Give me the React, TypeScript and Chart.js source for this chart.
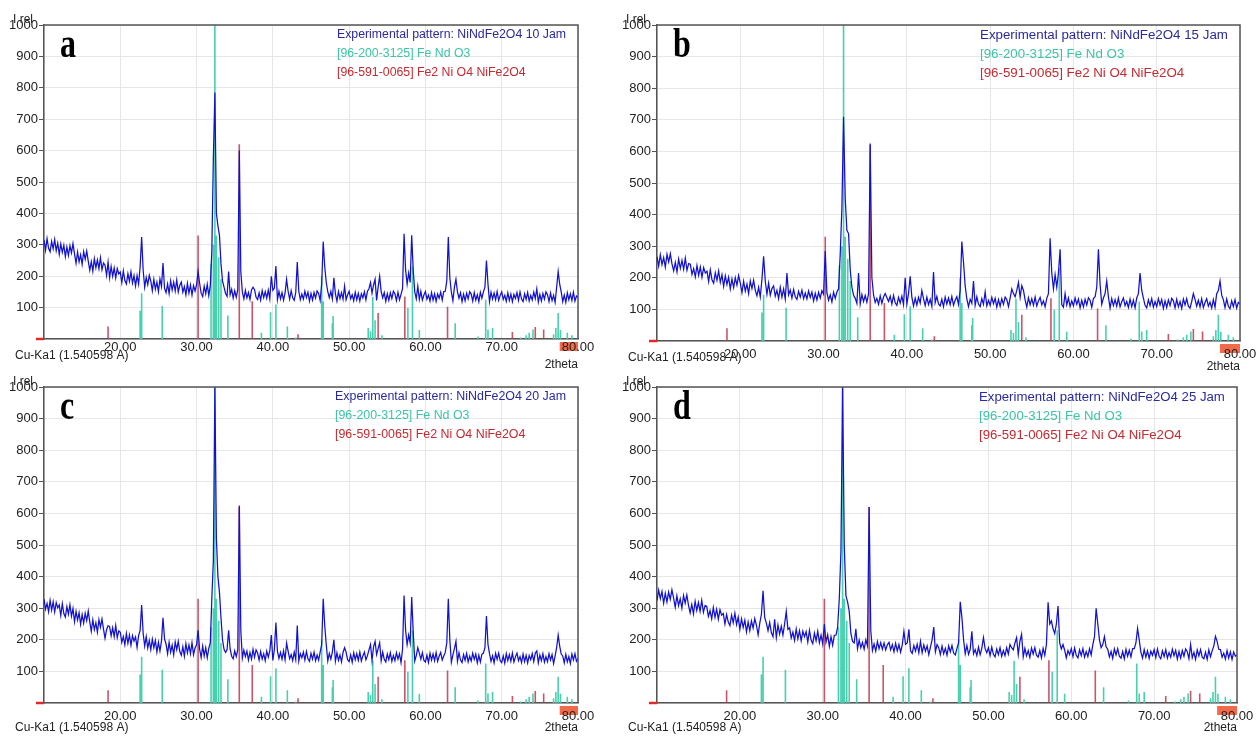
import React, { useEffect, useRef } from "react";
import { Chart, registerables } from "chart.js";
Chart.register(...registerables);

const FONT = '"Liberation Sans", Arial, Helvetica, sans-serif';
const SERIF = '"Liberation Serif", "Times New Roman", serif';

// 2theta grid of the measured patterns
const X_START = 10;
const X_STEP = 0.2;
const X_MIN = 10;
const X_MAX = 80;
const X_TICK_STEP = 10;
const Y_MIN = 0;
const Y_MAX = 1000;
const Y_TICK_STEP = 100;

const Y_TITLE = "I rel";
const X_TITLE = "2theta";
const RADIATION_LABEL = "Cu-Ka1 (1.540598 A)";
const LEGEND_REF1 = "[96-200-3125] Fe Nd O3";
const LEGEND_REF2 = "[96-591-0065] Fe2 Ni O4 NiFe2O4";
const PANEL_LETTERS = ["a", "b", "c", "d"];
const SAMPLE_NAMES = ["NiNdFe2O4 10 Jam", "NiNdFe2O4 15 Jam", "NiNdFe2O4 20 Jam", "NiNdFe2O4 25 Jam"];

// measured intensity, one value each 0.2 deg from 10 to 80
const EXP_A = [
  316, 283, 320, 289, 278, 311, 287, 317, 281, 305,
  270, 303, 276, 299, 262, 293, 266, 297, 274, 304,
  271, 241, 277, 246, 268, 238, 278, 254, 280, 248,
  219, 246, 216, 256, 227, 252, 224, 259, 221, 242,
  235, 203, 245, 195, 231, 200, 226, 194, 224, 207,
  213, 180, 217, 186, 175, 208, 184, 214, 178, 202,
  169, 202, 175, 230, 325, 218, 165, 196, 173, 203,
  184, 154, 190, 159, 181, 151, 191, 167, 242, 161,
  148, 175, 145, 185, 156, 181, 153, 188, 150, 171,
  181, 149, 167, 141, 177, 146, 172, 140, 170, 153,
  173, 215, 177, 146, 135, 168, 144, 174, 138, 170,
  280, 575, 785, 400, 360, 330, 240, 185, 165, 145,
  136, 215, 141, 158, 130, 154, 133, 157, 600, 215,
  150, 128, 155, 131, 148, 126, 156, 165, 157, 133,
  126, 147, 124, 154, 132, 151, 130, 156, 128, 200,
  155, 162, 232, 125, 152, 128, 148, 124, 147, 190,
  152, 127, 154, 131, 123, 148, 245, 152, 125, 143,
  127, 152, 132, 149, 121, 145, 124, 148, 130, 153,
  145, 123, 175, 310, 230, 180, 151, 132, 152, 128,
  195, 144, 121, 151, 129, 148, 127, 168, 125, 141,
  152, 128, 141, 122, 149, 125, 145, 121, 144, 131,
  150, 125, 152, 160, 180, 146, 172, 190, 123, 165,
  200, 151, 131, 148, 120, 144, 123, 147, 129, 152,
  144, 122, 149, 125, 142, 160, 335, 220, 175, 210,
  180, 330, 220, 150, 128, 168, 126, 152, 124, 140,
  151, 127, 140, 121, 148, 124, 144, 120, 143, 130,
  149, 124, 151, 152, 185, 325, 195, 149, 122, 165,
  190, 150, 130, 147, 119, 143, 122, 146, 128, 151,
  143, 121, 148, 124, 141, 119, 149, 130, 150, 165,
  250, 175, 119, 149, 127, 146, 125, 151, 123, 139,
  150, 126, 139, 120, 147, 123, 143, 119, 142, 129,
  148, 123, 150, 127, 119, 144, 126, 148, 121, 139,
  124, 149, 129, 160, 118, 142, 121, 145, 127, 150,
  141, 119, 146, 122, 139, 117, 165, 215, 175, 150,
  119, 140, 117, 147, 125, 144, 123, 149, 121, 137,
  133,
];

const EXP_B = [
  267, 237, 273, 242, 264, 234, 274, 250, 276, 244,
  222, 249, 219, 259, 230, 255, 227, 262, 224, 245,
  243, 211, 229, 203, 239, 208, 234, 202, 232, 215,
  221, 188, 225, 194, 183, 216, 192, 222, 186, 210,
  173, 206, 179, 202, 165, 196, 169, 200, 177, 207,
  183, 153, 189, 158, 180, 150, 190, 166, 192, 160,
  143, 170, 140, 195, 268, 190, 148, 183, 145, 166,
  174, 142, 160, 134, 170, 139, 165, 133, 215, 146,
  161, 136, 163, 140, 132, 157, 139, 161, 134, 152,
  133, 158, 138, 155, 127, 151, 130, 154, 136, 159,
  148, 285, 153, 129, 146, 124, 154, 135, 155, 165,
  275, 420, 710, 450, 350, 340, 225, 170, 145, 135,
  119, 215, 117, 147, 125, 144, 123, 149, 625, 200,
  146, 122, 135, 116, 143, 119, 139, 150, 138, 125,
  142, 117, 144, 121, 113, 138, 120, 142, 115, 200,
  117, 150, 205, 139, 111, 135, 114, 138, 120, 160,
  134, 112, 139, 115, 132, 110, 218, 121, 141, 117,
  111, 132, 109, 139, 117, 136, 115, 141, 113, 129,
  140, 116, 160, 315, 250, 175, 133, 109, 132, 119,
  190, 113, 140, 117, 109, 134, 116, 155, 111, 129,
  113, 138, 118, 135, 107, 131, 110, 134, 116, 139,
  131, 109, 136, 165, 150, 140, 160, 185, 138, 175,
  160, 130, 107, 137, 115, 134, 113, 139, 111, 127,
  138, 114, 127, 108, 135, 150, 325, 215, 165, 210,
  170, 215, 290, 115, 107, 150, 114, 136, 109, 127,
  111, 136, 116, 133, 105, 129, 108, 132, 114, 137,
  129, 107, 134, 140, 170, 290, 180, 116, 136, 150,
  190, 140, 104, 134, 112, 131, 110, 136, 108, 124,
  136, 112, 125, 106, 133, 109, 129, 105, 136, 150,
  215, 160, 136, 113, 105, 130, 112, 134, 107, 125,
  109, 134, 114, 131, 103, 127, 106, 130, 112, 135,
  127, 105, 132, 108, 125, 103, 133, 114, 134, 110,
  104, 125, 150, 132, 110, 129, 108, 134, 106, 122,
  134, 110, 123, 104, 131, 107, 150, 160, 190, 145,
  131, 106, 133, 110, 102, 127, 109, 131, 104, 122,
  117,
];

const EXP_C = [
  329, 297, 315, 289, 325, 294, 320, 288, 318, 301,
  310, 277, 314, 283, 272, 305, 281, 311, 275, 299,
  257, 290, 263, 286, 249, 280, 253, 284, 261, 291,
  257, 227, 263, 232, 254, 224, 264, 240, 266, 234,
  205, 232, 245, 242, 213, 238, 210, 245, 207, 228,
  224, 192, 210, 184, 220, 189, 215, 183, 213, 196,
  209, 176, 213, 230, 310, 220, 180, 210, 174, 198,
  169, 202, 175, 198, 161, 192, 165, 196, 270, 203,
  186, 156, 192, 161, 183, 153, 193, 169, 195, 163,
  151, 178, 148, 188, 159, 184, 156, 191, 153, 174,
  184, 230, 170, 144, 180, 149, 175, 143, 173, 190,
  330, 450, 1000, 520, 400, 350, 270, 200, 170, 160,
  169, 230, 171, 148, 140, 165, 147, 169, 625, 230,
  142, 167, 147, 164, 136, 160, 139, 170, 145, 168,
  158, 136, 163, 139, 156, 134, 164, 145, 165, 215,
  135, 170, 255, 163, 141, 160, 139, 165, 137, 190,
  164, 140, 153, 134, 161, 137, 245, 133, 156, 143,
  161, 136, 163, 140, 132, 157, 139, 161, 134, 152,
  136, 161, 185, 330, 245, 185, 133, 157, 139, 162,
  200, 132, 159, 135, 152, 130, 160, 175, 161, 137,
  131, 152, 129, 159, 137, 156, 135, 161, 133, 149,
  161, 137, 150, 168, 185, 134, 178, 195, 153, 172,
  190, 134, 161, 138, 130, 155, 137, 159, 132, 150,
  134, 159, 139, 156, 128, 170, 340, 230, 185, 215,
  190, 335, 225, 133, 150, 175, 158, 139, 159, 135,
  130, 151, 128, 158, 136, 155, 134, 160, 132, 148,
  160, 136, 149, 160, 190, 330, 200, 129, 152, 172,
  195, 132, 159, 136, 128, 153, 135, 157, 130, 148,
  133, 158, 138, 155, 127, 151, 130, 154, 158, 175,
  275, 185, 156, 132, 149, 127, 157, 138, 158, 134,
  128, 149, 126, 156, 134, 153, 132, 158, 130, 146,
  158, 134, 147, 128, 155, 131, 151, 127, 150, 137,
  156, 131, 158, 165, 127, 152, 134, 156, 129, 147,
  131, 156, 136, 153, 125, 149, 175, 215, 180, 155,
  149, 127, 154, 130, 147, 125, 155, 136, 156, 132,
  141,
];

const EXP_D = [
  324, 357, 330, 353, 316, 347, 320, 351, 328, 358,
  333, 303, 339, 308, 330, 300, 340, 316, 342, 310,
  285, 312, 282, 322, 293, 318, 290, 325, 287, 308,
  306, 274, 292, 266, 302, 271, 297, 265, 295, 278,
  283, 250, 280, 256, 245, 278, 254, 284, 248, 272,
  233, 266, 239, 262, 225, 256, 229, 260, 237, 267,
  246, 216, 252, 280, 355, 270, 253, 229, 255, 223,
  210, 265, 207, 247, 218, 243, 215, 250, 290, 233,
  238, 206, 224, 198, 234, 203, 229, 197, 227, 210,
  226, 193, 230, 199, 188, 221, 197, 227, 191, 215,
  187, 250, 193, 216, 179, 210, 183, 214, 215, 240,
  330, 480, 1000, 500, 340, 320, 290, 220, 195, 190,
  235, 172, 199, 175, 192, 170, 200, 181, 620, 230,
  166, 187, 164, 194, 172, 191, 170, 190, 168, 184,
  192, 168, 185, 162, 189, 165, 185, 161, 184, 227,
  186, 190, 233, 165, 157, 182, 164, 186, 159, 195,
  159, 184, 164, 181, 153, 177, 200, 240, 162, 185,
  175, 153, 180, 156, 173, 151, 181, 162, 182, 158,
  152, 173, 190, 320, 270, 200, 156, 182, 154, 170,
  227, 156, 169, 150, 177, 153, 173, 207, 172, 159,
  175, 150, 177, 154, 146, 171, 153, 175, 148, 166,
  150, 175, 155, 185, 175, 168, 190, 207, 153, 195,
  217, 146, 173, 149, 166, 144, 174, 155, 175, 151,
  145, 166, 143, 173, 151, 185, 319, 250, 260, 235,
  220, 250, 307, 190, 171, 185, 167, 143, 166, 153,
  172, 147, 174, 151, 143, 168, 150, 172, 145, 163,
  147, 172, 152, 185, 210, 300, 250, 200, 175, 185,
  210, 178, 170, 146, 163, 141, 171, 152, 172, 148,
  142, 163, 140, 170, 148, 167, 146, 172, 172, 190,
  236, 200, 161, 142, 169, 145, 165, 141, 164, 151,
  169, 144, 171, 148, 140, 165, 147, 169, 142, 160,
  145, 170, 150, 167, 139, 163, 142, 166, 148, 171,
  162, 140, 185, 143, 160, 138, 168, 149, 169, 145,
  140, 161, 138, 168, 146, 165, 180, 211, 195, 170,
  169, 145, 158, 139, 166, 142, 162, 138, 161, 148,
  153,
];

// reference pattern [96-200-3125] Fe Nd O3 (stick positions / intensities)
const FENDO3_POS = [22.6, 22.8, 25.5, 31.9, 32.2, 32.4, 32.6, 32.9, 33.2, 34.1, 38.5, 39.7, 40.4, 41.9, 43.0, 46.4, 46.6, 47.8, 47.9, 52.5, 52.8, 53.1, 53.4, 54.3, 57.7, 58.3, 59.2, 63.9, 66.9, 67.9, 68.2, 68.8, 72.5, 73.2, 73.6, 74.1, 76.8, 77.1, 77.4, 77.7, 78.6, 79.2];
const FENDO3_INT = [90, 146, 105, 240, 300, 1000, 330, 260, 190, 75, 20, 85, 110, 40, 5, 200, 120, 50, 73, 35, 25, 134, 60, 12, 99, 230, 29, 50, 8, 125, 30, 35, 5, 12, 20, 30, 15, 35, 83, 29, 20, 12];

// reference pattern [96-591-0065] Fe2 Ni O4 NiFe2O4
const NIFE2O4_POS = [18.4, 30.2, 35.6, 37.3, 43.3, 53.8, 57.3, 62.9, 71.4, 74.4, 75.5];
const NIFE2O4_INT = [40, 330, 620, 120, 15, 83, 135, 103, 22, 38, 30];

const MARKER_FROM = 77.6;

const COLORS = {
  exp: "rgb(18,18,205)",
  expText: "#2a2a9c",
  fendo3: "rgba(62,206,170,0.95)",
  fendo3Text: "#3cc4a6",
  nife: "rgba(190,56,78,0.85)",
  nifeText: "#c42a30",
  grid: "#e6e6e6",
  axis: "#555",
  text: "#222",
  marker: "#f26a4a",
  zeroMark: "#e02a2a",
};

const PANEL_DATA = [EXP_A, EXP_B, EXP_C, EXP_D];

const LAYOUT = [
  { left: 0, top: 0, w: 610, h: 372, L: 44, T: 25, R: 578, B: 339, legendW: 229, tickPad: 1, cuDy: 17, thetaDy: 26 },
  { left: 610, top: 0, w: 646, h: 372, L: 47, T: 25, R: 630, B: 341, legendW: 248, tickPad: 6, cuDy: 17, thetaDy: 26 },
  { left: 0, top: 360, w: 610, h: 376, L: 44, T: 27, R: 578, B: 343, legendW: 231, tickPad: 6, cuDy: 25, thetaDy: 25 },
  { left: 610, top: 360, w: 646, h: 376, L: 47, T: 27, R: 627, B: 343, legendW: 246, tickPad: 6, cuDy: 25, thetaDy: 25 },
];

function sticks(pos: number[], ints: number[]) {
  const out: { x: number; y: number | null }[] = [];
  pos.forEach((p, i) => {
    out.push({ x: p, y: 0 });
    out.push({ x: p, y: ints[i] });
    out.push({ x: p, y: null });
  });
  return out;
}

function makeConfig(idx: number): any {
  const lay = LAYOUT[idx];
  const values = PANEL_DATA[idx];
  const sample = SAMPLE_NAMES[idx];
  const letter = PANEL_LETTERS[idx];
  const exp = values.map((y, i) => ({ x: Math.round((X_START + i * X_STEP) * 10) / 10, y }));

  const decor = {
    id: "decor" + letter,
    beforeDraw(chart: any) {
      const { ctx, scales } = chart;
      const xs = scales.x;
      const ys = scales.y;
      const x0 = xs.getPixelForValue(MARKER_FROM);
      const x1 = xs.getPixelForValue(X_MAX);
      const yb = ys.getPixelForValue(0);
      ctx.save();
      ctx.fillStyle = COLORS.marker;
      ctx.fillRect(x0, yb + 3, x1 - x0, 9);
      ctx.restore();
    },
    afterDraw(chart: any) {
      const { ctx, chartArea: ca, scales } = chart;
      const yb = scales.y.getPixelForValue(0);
      ctx.save();
      ctx.strokeStyle = COLORS.axis;
      ctx.lineWidth = 1.5;
      ctx.beginPath();
      ctx.moveTo(ca.left, ca.top);
      ctx.lineTo(ca.right, ca.top);
      ctx.lineTo(ca.right, ca.bottom);
      ctx.stroke();
      ctx.strokeStyle = COLORS.zeroMark;
      ctx.lineWidth = 2.5;
      ctx.beginPath();
      ctx.moveTo(ca.left - 8, yb);
      ctx.lineTo(ca.left, yb);
      ctx.stroke();
      ctx.fillStyle = COLORS.text;
      ctx.font = `12px ${FONT}`;
      ctx.textAlign = "left";
      ctx.textBaseline = "alphabetic";
      ctx.fillText(Y_TITLE, ca.left - 31, ca.top - 2);
      ctx.textBaseline = "middle";
      ctx.fillText(RADIATION_LABEL, ca.left - 29, ca.bottom + lay.cuDy);
      ctx.textAlign = "right";
      ctx.fillText(X_TITLE, ca.right, ca.bottom + lay.thetaDy);
      const line1 = "Experimental pattern: " + sample;
      ctx.font = `13px ${FONT}`;
      const w1 = ctx.measureText(line1).width;
      const fs = (13 * lay.legendW) / w1;
      ctx.font = `${fs.toFixed(2)}px ${FONT}`;
      ctx.textAlign = "left";
      const lx = ca.right - 12 - lay.legendW;
      ctx.fillStyle = COLORS.expText;
      ctx.fillText(line1, lx, ca.top + 10);
      ctx.fillStyle = COLORS.fendo3Text;
      ctx.fillText(LEGEND_REF1, lx, ca.top + 29);
      ctx.fillStyle = COLORS.nifeText;
      ctx.fillText(LEGEND_REF2, lx, ca.top + 48);
      ctx.fillStyle = "#000";
      ctx.font = `bold 32px ${SERIF}`;
      ctx.textBaseline = "alphabetic";
      ctx.translate(ca.left + 16, ca.top + 32);
      ctx.scale(1, 1.3);
      ctx.fillText(letter, 0, 0);
      ctx.restore();
    },
  };

  return {
    type: "line",
    data: {
      datasets: [
        { data: exp, borderColor: COLORS.exp, borderWidth: 1.25, pointRadius: 0, tension: 0, order: 0 },
        { data: sticks(NIFE2O4_POS, NIFE2O4_INT), borderColor: COLORS.nife, borderWidth: 1.6, pointRadius: 0, spanGaps: false, order: 1 },
        { data: sticks(FENDO3_POS, FENDO3_INT), borderColor: COLORS.fendo3, borderWidth: 1.6, pointRadius: 0, spanGaps: false, order: 2 },
      ],
    },
    options: {
      responsive: false,
      animation: false,
      devicePixelRatio: 1,
      events: [],
      layout: { padding: { left: 0, top: lay.T, right: lay.w - lay.R, bottom: 0 } },
      plugins: { legend: { display: false }, tooltip: { enabled: false } },
      scales: {
        x: {
          type: "linear",
          min: X_MIN,
          max: X_MAX,
          afterFit: (s: any) => {
            s.height = lay.h - lay.B;
            s.paddingLeft = 0;
            s.paddingRight = 0;
          },
          ticks: {
            stepSize: X_TICK_STEP,
            autoSkip: false,
            maxRotation: 0,
            padding: lay.tickPad,
            color: COLORS.text,
            font: { family: FONT, size: 13 },
            callback: (v: any) => (Number(v) === X_MIN ? "" : Number(v).toFixed(2)),
          },
          grid: { color: COLORS.grid, drawTicks: false },
          border: { color: COLORS.axis, width: 1.5 },
        },
        y: {
          type: "linear",
          min: Y_MIN,
          max: Y_MAX,
          afterFit: (s: any) => {
            s.width = lay.L;
            s.paddingTop = 0;
            s.paddingBottom = 0;
          },
          ticks: {
            stepSize: Y_TICK_STEP,
            padding: 1,
            color: COLORS.text,
            font: { family: FONT, size: 13 },
            callback: (v: any) => (Number(v) === 0 ? "" : String(v)),
          },
          grid: { color: COLORS.grid, tickColor: COLORS.axis, tickLength: 5, drawTicks: true },
          border: { color: COLORS.axis, width: 1.5 },
        },
      },
    },
    plugins: [decor],
  };
}

export default function App() {
  const refs = useRef<(HTMLCanvasElement | null)[]>([]);
  useEffect(() => {
    const charts = LAYOUT.map((_, i) => new Chart(refs.current[i] as HTMLCanvasElement, makeConfig(i)));
    return () => charts.forEach((c) => c.destroy());
  }, []);
  return (
    <div style={{ position: "fixed", left: 0, top: 0, width: 1256, height: 736, background: "#fff", overflow: "hidden" }}>
      {LAYOUT.map((lay, i) => (
        <canvas
          key={i}
          ref={(el) => {
            refs.current[i] = el;
          }}
          width={lay.w}
          height={lay.h}
          style={{ position: "absolute", left: lay.left, top: lay.top, width: lay.w, height: lay.h }}
        />
      ))}
    </div>
  );
}
